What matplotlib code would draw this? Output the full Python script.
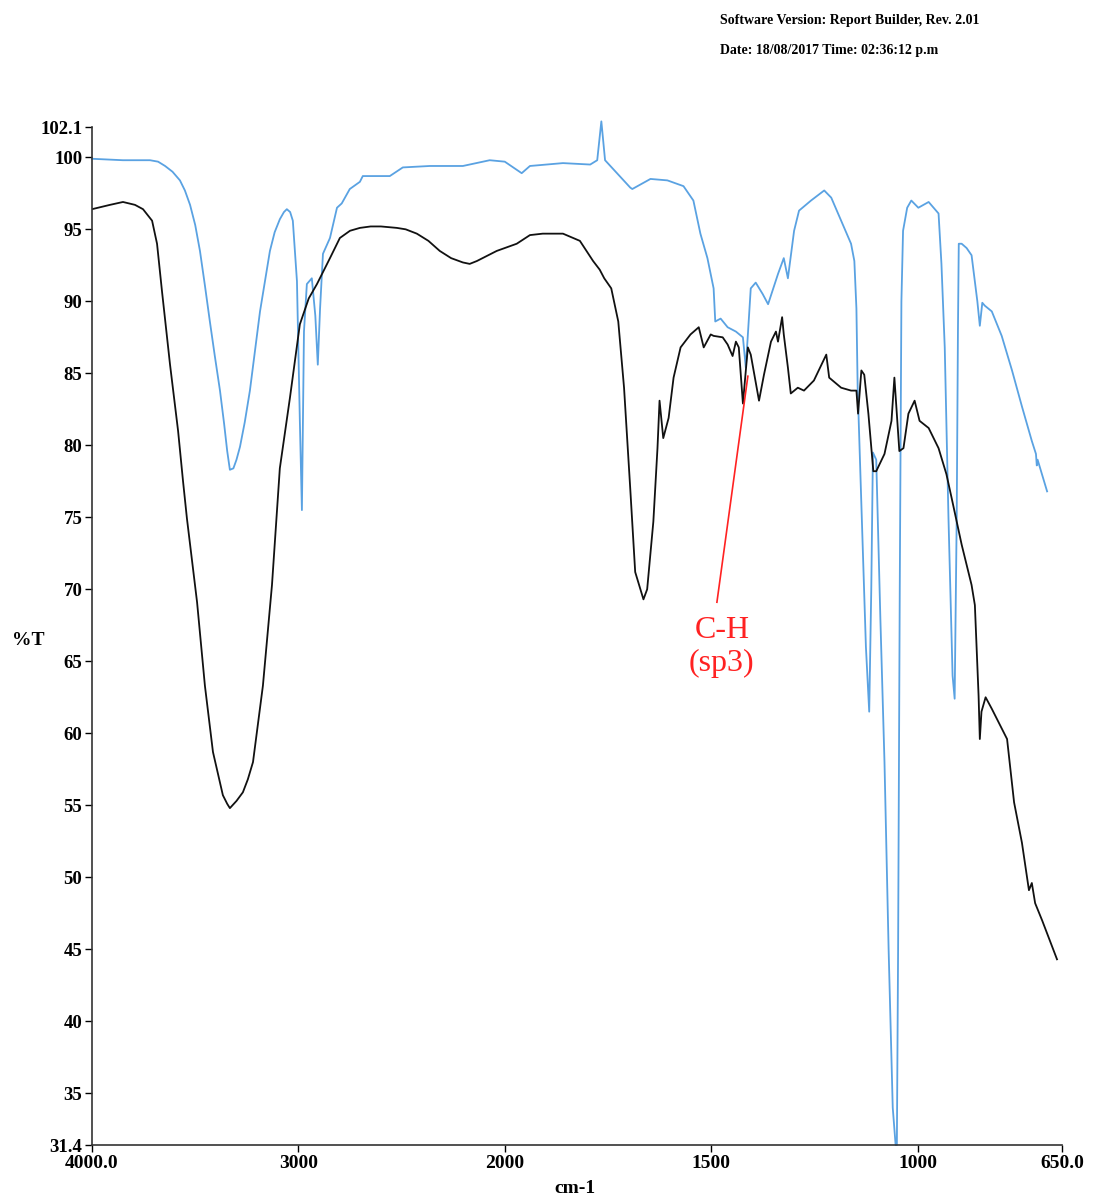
import numpy as np
import matplotlib
matplotlib.use("Agg")
from matplotlib import pyplot as plt

# FTIR spectra (wavenumber cm-1, %T)
blue_wn = [4000, 3850, 3719, 3680, 3646, 3610, 3574, 3550, 3525, 3500, 3477, 3453, 3429, 3405, 3380,
           3360, 3345, 3332, 3315, 3300, 3283, 3260, 3235, 3210, 3186, 3160, 3138, 3115, 3090, 3070,
           3056, 3040, 3027, 3007, 2993, 2983, 2973, 2959, 2935, 2918, 2906, 2895, 2881, 2847, 2813,
           2790, 2751, 2702, 2688, 2557, 2494, 2363, 2203, 2073, 2000, 1959, 1939, 1859, 1793, 1776,
           1766, 1757, 1728, 1696, 1691, 1647, 1606, 1567, 1543, 1526, 1509, 1494, 1490, 1477, 1460,
           1440, 1423, 1416, 1404, 1392, 1375, 1362, 1338, 1324, 1314, 1299, 1287, 1258, 1226, 1209,
           1185, 1161, 1153, 1148, 1145, 1135, 1125, 1117, 1112, 1108, 1100, 1090, 1080, 1070, 1060,
           1053, 1050, 1047, 1043, 1039, 1035, 1025, 1015, 998, 973, 949, 942, 934, 925, 915,
           910, 905, 902, 900, 893, 881, 869, 855, 849, 843, 837, 820, 796, 771, 747,
           723, 713, 711, 709, 686]
blue_t = [99.9, 99.8, 99.8, 99.7, 99.4, 99.0, 98.4, 97.7, 96.7, 95.3, 93.5, 91.1, 88.6, 86.2, 83.8,
          81.5, 79.6, 78.3, 78.4, 79.0, 79.9, 81.6, 83.8, 86.6, 89.3, 91.6, 93.5, 94.8, 95.7, 96.2,
          96.4, 96.2, 95.6, 91.4, 81.7, 75.5, 87.9, 91.2, 91.6, 89.0, 85.6, 89.5, 93.3, 94.4, 96.5,
          96.8, 97.8, 98.3, 98.7, 98.7, 99.3, 99.4, 99.4, 99.8, 99.7, 98.9, 99.4, 99.6, 99.5, 99.8,
          102.5, 99.8, 98.9, 97.9, 97.8, 98.5, 98.4, 98.0, 97.0, 94.7, 93.0, 90.9, 88.6, 88.8, 88.2,
          87.9, 87.5, 85.4, 90.9, 91.3, 90.5, 89.8, 91.9, 93.0, 91.6, 94.9, 96.3, 97.0, 97.7, 97.2,
          95.6, 94.0, 92.8, 89.5, 84.0, 75.0, 66.0, 61.5, 70.0, 79.5, 79.0, 68.0, 58.0, 45.0, 34.0,
          31.4, 31.4, 45.0, 70.0, 90.0, 94.9, 96.5, 97.0, 96.5, 96.9, 96.1, 92.6, 86.8, 75.0, 64.0,
          62.4, 75.0, 88.0, 94.0, 94.0, 93.7, 93.2, 90.0, 88.3, 89.9, 89.7, 89.3, 87.6, 85.2, 82.7,
          80.3, 79.4, 78.6, 79.0, 76.8]

black_wn = [4000, 3913, 3850, 3792, 3753, 3709, 3685, 3661, 3622, 3583, 3559, 3540, 3491, 3453, 3414,
            3366, 3345, 3332, 3300, 3269, 3245, 3220, 3172, 3128, 3090, 3041, 2993, 2950, 2910, 2847,
            2799, 2750, 2702, 2650, 2600, 2523, 2480, 2426, 2370, 2315, 2260, 2203, 2170, 2135, 2039,
            1971, 1939, 1908, 1859, 1818, 1786, 1770, 1759, 1742, 1725, 1711,
            1696, 1684, 1664, 1655, 1640, 1630, 1625, 1616, 1603, 1591, 1574, 1550, 1530, 1518, 1501,
            1494, 1472, 1460, 1448, 1440, 1433, 1423, 1411, 1404, 1384, 1372, 1355, 1343, 1338, 1328,
            1324, 1314, 1307, 1290, 1275, 1251, 1221, 1214, 1185, 1161, 1148, 1144, 1136, 1129, 1119,
            1107, 1100, 1080, 1063, 1056, 1051, 1044, 1034, 1022, 1007, 995, 973, 949, 930, 917,
            893, 869, 861, 852, 849, 845, 835, 820, 813, 783, 766, 747, 730, 723, 715,
            698, 662]
black_t = [96.4, 96.7, 96.9, 96.7, 96.4, 95.6, 94.0, 90.7, 85.6, 81.0, 77.5, 74.9, 69.1, 63.3, 58.7,
           55.7, 55.1, 54.8, 55.3, 55.9, 56.8, 58.0, 63.3, 70.3, 78.4, 83.3, 88.4, 90.2, 91.2, 93.0,
           94.4, 94.9, 95.1, 95.2, 95.2, 95.1, 95.0, 94.7, 94.2, 93.5, 93.0, 92.7, 92.6, 92.8, 93.5,
           94.0, 94.6, 94.7, 94.7, 94.2, 92.8, 92.2, 91.6, 90.9, 88.6, 84.0,
           77.0, 71.2, 69.3, 70.0, 74.7, 79.8, 83.1, 80.5, 81.9, 84.7, 86.8, 87.7, 88.2, 86.8, 87.7,
           87.6, 87.5, 87.0, 86.2, 87.2, 86.8, 82.9, 86.8, 86.3, 83.1, 84.9, 87.2, 87.9, 87.2, 88.9,
           87.7, 85.4, 83.6, 84.0, 83.8, 84.5, 86.3, 84.7, 84.0, 83.8, 83.8, 82.2, 85.2, 84.9, 82.2,
           78.2, 78.2, 79.4, 81.7, 84.7, 82.6, 79.6, 79.8, 82.2, 83.1, 81.7, 81.2, 79.8, 78.0, 76.3,
           73.1, 70.3, 68.9, 62.6, 59.6, 61.5, 62.5, 61.7, 61.3, 59.6, 55.2, 52.4, 49.1, 49.6, 48.2,
           47.0, 44.3]

x_ticks = [4000, 3000, 2000, 1500, 1000, 650]
x_labels = ["4000.0", "3000", "2000", "1500", "1000", "650.0"]
y_ticks = [31.4, 35, 40, 45, 50, 55, 60, 65, 70, 75, 80, 85, 90, 95, 100, 102.1]
y_labels = ["31.4", "35", "40", "45", "50", "55", "60", "65", "70", "75", "80", "85", "90", "95", "100", "102.1"]

# annotation line for the C-H (sp3) band
note_wn = [1411, 1486]
note_t = [84.8, 69.1]


# the instrument doubles the scale below 2000 cm-1
def fwd(x):
    x = np.asarray(x, dtype=float)
    return np.where(x <= 2000, 2 * x, x + 2000)


def inv(y):
    y = np.asarray(y, dtype=float)
    return np.where(y <= 4000, y / 2, y - 2000)


serif = "Liberation Serif"
fig = plt.figure(figsize=(10.93, 11.98), dpi=100)
ax = fig.add_axes([0.0842, 0.0442, 0.8874, 0.8497])
ax.set_xscale("function", functions=(fwd, inv))
ax.set_xlim(4000, 650)
ax.set_ylim(31.4, 102.1)

ax.plot(blue_wn, blue_t, color="#5aa2e2", lw=1.3, clip_on=False)
ax.plot(black_wn, black_t, color="#111111", lw=1.3)
ax.plot(note_wn, note_t, color="#ff2222", lw=1.2)
ax.text(1474, 66.0, "C-H\n(sp3)", color="#ff2222", family=serif, fontsize=23,
        ha="center", va="center", linespacing=1.15)

for s in ["top", "right"]:
    ax.spines[s].set_visible(False)
for s in ["left", "bottom"]:
    ax.spines[s].set_color("#333333")
    ax.spines[s].set_linewidth(1.2)

ax.set_xticks(x_ticks)
ax.set_xticklabels(x_labels, family=serif, fontweight="bold", fontsize=14)
ax.xaxis.set_minor_locator(matplotlib.ticker.NullLocator())
ax.set_yticks(y_ticks)
ax.set_yticklabels(y_labels, family=serif, fontweight="bold", fontsize=13.5)
ax.tick_params(axis="both", length=5, width=1, direction="out", pad=2)

fig.text(0.011, 0.465, "%T", family=serif, fontweight="bold", fontsize=14, ha="left", va="center")
fig.text(0.526, 0.008, "cm-1", family=serif, fontweight="bold", fontsize=14, ha="center", va="center")
fig.text(0.659, 0.983, "Software Version: Report Builder, Rev. 2.01", family=serif,
         fontweight="bold", fontsize=10, ha="left", va="center")
fig.text(0.659, 0.958, "Date: 18/08/2017 Time: 02:36:12 p.m", family=serif,
         fontweight="bold", fontsize=10, ha="left", va="center")

plt.savefig("out.png", dpi=100)
